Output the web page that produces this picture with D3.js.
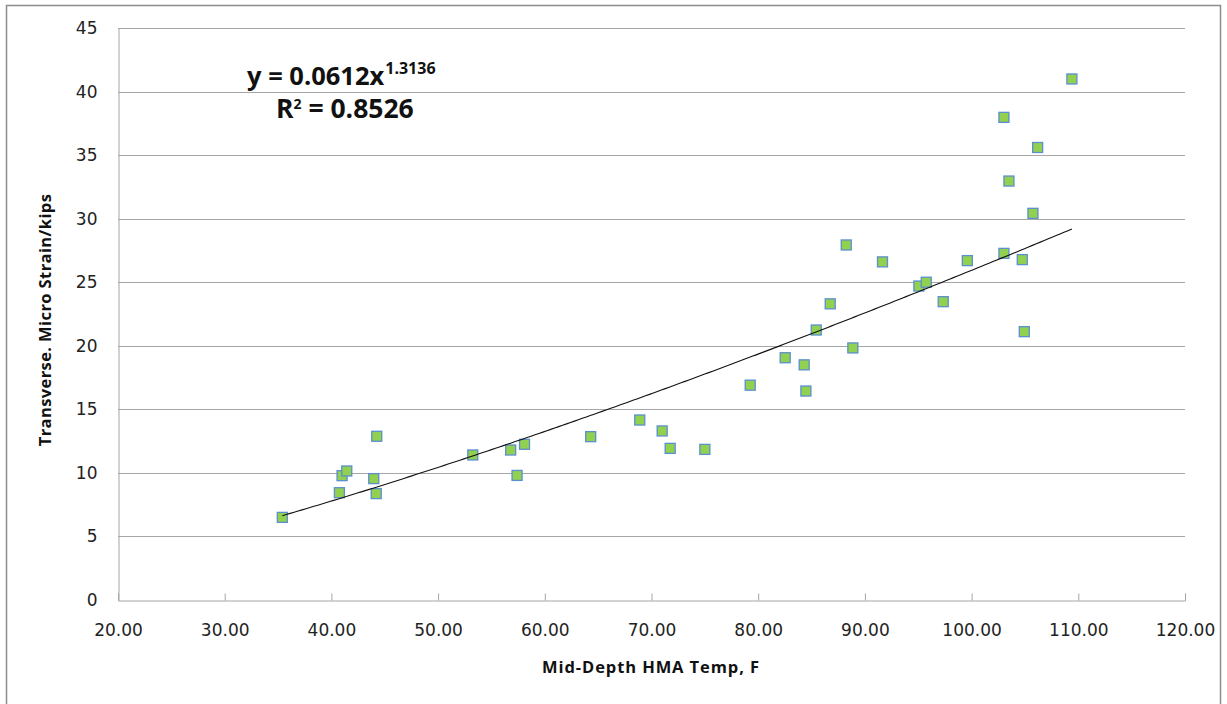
<!DOCTYPE html>
<html>
<head>
<meta charset="utf-8">
<script src="https://cdn.jsdelivr.net/npm/d3@7"></script>
<style>
  html, body { margin: 0; padding: 0; background: #fff; }
  svg { display: block; }
</style>
</head>
<body>
<svg id="chart" width="1227" height="704"></svg>
<script>
// ---- data ----
const tempF = [35.4, 40.75, 41.0, 41.44, 44.25, 43.97, 44.2, 53.25, 56.8, 57.4, 58.1, 64.3, 68.9, 71.0, 71.75, 75.0,
  79.25, 82.53, 84.31, 84.47, 85.44, 86.75, 88.25, 88.87, 91.65, 95.06, 95.75, 97.34, 99.6,
  103.03, 103.03, 103.5, 104.75, 104.94, 105.75, 106.19, 109.4];
const strain = [6.5, 8.44, 9.78, 10.15, 12.88, 9.55, 8.37, 11.41, 11.8, 9.8, 12.25, 12.85, 14.16, 13.3, 11.93, 11.85,
  16.9, 19.06, 18.5, 16.44, 21.24, 23.3, 27.93, 19.83, 26.6, 24.7, 25.0, 23.47, 26.7,
  27.27, 37.97, 32.96, 26.78, 21.11, 30.42, 35.6, 40.99];
const xTicks = [20, 30, 40, 50, 60, 70, 80, 90, 100, 110, 120];
const yTicks = [0, 5, 10, 15, 20, 25, 30, 35, 40, 45];
const fitA = 0.0612, fitB = 1.3136;
const eqMain = "y = 0.0612x", eqExp = "1.3136";
const r2Label = "0.8526";
const xTitle = "Mid-Depth HMA Temp, F";
const yTitle = "Transverse. Micro Strain/kips";

// ---- layout ----
const svg = d3.select("#chart");
const pLeft = 118, pRight = 1185, pTop = 28, pBottom = 600;
const x = d3.scaleLinear().domain([20, 120]).range([pLeft, pRight]);
const y = d3.scaleLinear().domain([0, 45]).range([pBottom, pTop]);

// outer border
svg.append("rect").attr("x", 6.5).attr("y", 5.5).attr("width", 1214).attr("height", 710)
  .attr("fill", "none").attr("stroke", "#8c8c8c").attr("stroke-width", 1.5);

// gridlines
svg.append("g").selectAll("line").data(yTicks.filter(d => d > 0)).join("line")
  .attr("x1", pLeft).attr("x2", pRight)
  .attr("y1", d => Math.round(y(d)) + 0.5).attr("y2", d => Math.round(y(d)) + 0.5)
  .attr("stroke", "#a6a6a6").attr("stroke-width", 1);

// y axis
const yAxis = d3.axisLeft(y).tickValues(yTicks).tickSize(0).tickPadding(21).tickFormat(d3.format("d"));
const gy = svg.append("g").attr("transform", `translate(${pLeft + 0.5},0)`).call(yAxis);
gy.select(".domain").attr("stroke", "#a6a6a6");
gy.selectAll("text").attr("font-family", "DejaVu Sans").attr("font-size", 17).attr("fill", "#222");

// x axis
const xAxis = d3.axisBottom(x).tickValues(xTicks).tickSize(-7).tickPadding(23).tickFormat(d3.format(".2f"));
const gx = svg.append("g").attr("transform", `translate(0,${pBottom + 0.5})`).call(xAxis);
gx.select(".domain").attr("stroke", "#a6a6a6");
gx.selectAll(".tick line").attr("stroke", "#a6a6a6");
gx.selectAll("text").attr("font-family", "DejaVu Sans").attr("font-size", 17).attr("fill", "#222");

// markers
const pts = tempF.map((t, i) => ({ t, s: strain[i] }));
const ms = 10;
svg.append("g").selectAll("rect").data(pts).join("rect")
  .attr("x", d => x(d.t) - ms / 2).attr("y", d => y(d.s) - ms / 2)
  .attr("width", ms).attr("height", ms)
  .attr("fill", "#92d050").attr("stroke", "#5b8fcf").attr("stroke-width", 1.3);

// power trendline
const xmin = d3.min(tempF), xmax = d3.max(tempF);
const trend = d3.range(0, 201).map(i => {
  const t = xmin + (xmax - xmin) * i / 200;
  return [t, fitA * Math.pow(t, fitB)];
});
svg.append("path").datum(trend)
  .attr("d", d3.line().x(d => x(d[0])).y(d => y(d[1])))
  .attr("fill", "none").attr("stroke", "#111").attr("stroke-width", 1.1);

// equation
const eq = svg.append("text").attr("x", 247).attr("y", 85)
  .attr("font-family", "Open Sans").attr("font-weight", "bold").attr("font-size", 25.5).attr("fill", "#111");
eq.append("tspan").text(eqMain);
eq.append("tspan").attr("font-size", 16).attr("dy", -11).attr("dx", 1).text(eqExp);

const r2 = svg.append("text").attr("x", 276).attr("y", 118)
  .attr("font-family", "Open Sans").attr("font-weight", "bold").attr("font-size", 26.5).attr("fill", "#111");
r2.append("tspan").text("R");
r2.append("tspan").attr("font-size", 14).attr("dy", -9).text("2");
r2.append("tspan").attr("dy", 9).text(" = " + r2Label);

// axis titles
svg.append("text").attr("x", 651).attr("y", 673).attr("text-anchor", "middle")
  .attr("font-family", "Open Sans").attr("font-weight", "bold").attr("font-size", 16.5)
  .attr("letter-spacing", 0.9).attr("fill", "#111")
  .text(xTitle);
svg.append("text").attr("transform", "translate(51,320) rotate(-90)").attr("text-anchor", "middle")
  .attr("font-family", "Open Sans").attr("font-weight", "bold").attr("font-size", 16.5)
  .attr("letter-spacing", 0.4).attr("fill", "#111")
  .text(yTitle);
</script>
</body>
</html>
